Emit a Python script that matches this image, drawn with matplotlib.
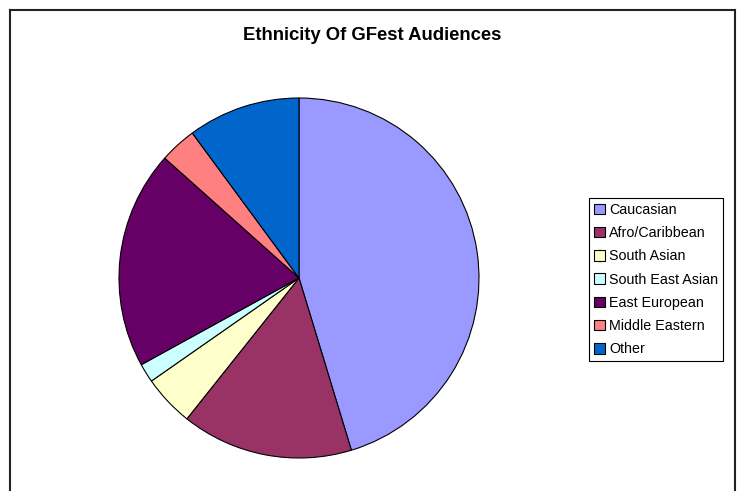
import matplotlib.pyplot as plt
from matplotlib.lines import Line2D

plt.rcParams['font.family'] = ['Liberation Sans', 'DejaVu Sans']

# data (percent of audience)
labels = ['Caucasian', 'Afro/Caribbean', 'South Asian', 'South East Asian',
          'East European', 'Middle Eastern', 'Other']
shares = [45.3, 15.4, 4.6, 1.7, 19.6, 3.3, 10.1]
colors = ['#9999FF', '#993366', '#FFFFCC', '#CCFFFF', '#660066', '#FF8080', '#0066CC']

W, H = 742, 491
fig = plt.figure(figsize=(W / 100, H / 100), dpi=100)
fig.patch.set_facecolor('white')

# pie axes: centre (299, 278) px, radius 180 px
cx, cy, r = 299, 278, 180
ax = fig.add_axes([(cx - r) / W, (H - cy - r) / H, 2 * r / W, 2 * r / H])
wedges, _ = ax.pie(shares, colors=colors, startangle=90, counterclock=False,
                   wedgeprops=dict(edgecolor='black', linewidth=0.8))
ax.set_xlim(-1, 1)
ax.set_ylim(-1, 1)
ax.set_aspect('equal')
ax.axis('off')

fig.text(372 / W, 1 - 35 / H, 'Ethnicity Of GFest Audiences',
         ha='center', va='center', fontsize=13.3, fontweight='bold')

leg = fig.legend(wedges, labels, loc='upper left',
                 bbox_to_anchor=(589 / W, 1 - 198 / H),
                 fontsize=10.3, frameon=True, fancybox=False, shadow=False,
                 edgecolor='black', framealpha=1, borderpad=0.35,
                 labelspacing=0.645, handlelength=0.75, handleheight=0.75,
                 handletextpad=0.3, borderaxespad=0)
leg.get_frame().set_linewidth(0.8)

# outer chart border (top, left, right)
lw = 1.5
x0, x1, y0 = 9.5 / W, 734.5 / W, 1 - 9.5 / H
fig.add_artist(Line2D([x0, x1], [y0, y0], color='#222222', lw=lw))
fig.add_artist(Line2D([x0, x0], [0, y0], color='#222222', lw=lw))
fig.add_artist(Line2D([x1, x1], [0, y0], color='#222222', lw=lw))

fig.savefig('out.png', dpi=100)
